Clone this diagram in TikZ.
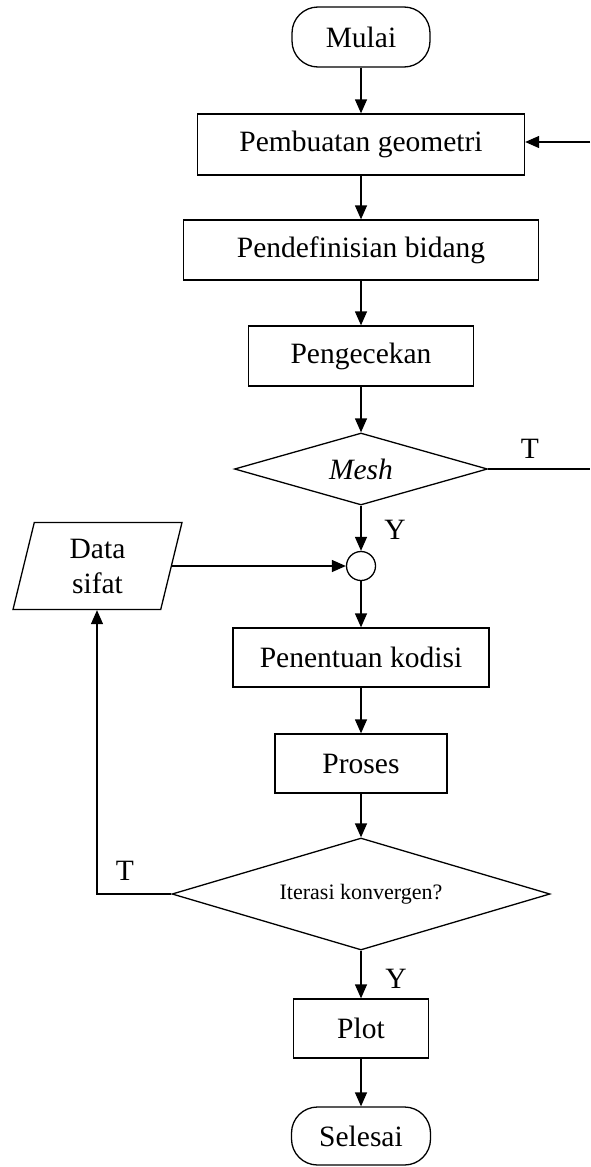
\documentclass[tikz,border=0pt]{standalone}
\usepackage{fontspec}
\setmainfont{Liberation Serif}
\usetikzlibrary{arrows.meta, shapes.geometric, positioning}
\tikzset{
  % thin black lines with filled triangle tips, as in the scanned chart
  every picture/.append style = {line width=1.3pt, >={Triangle[length=14pt, width=12pt]}},
  flowtxt/.style = {font=\fontsize{29.5}{35}\selectfont},
  procbox/.style = {draw, rectangle, flowtxt, inner sep=0pt, minimum height=60pt},
  termbox/.style = {procbox, rounded corners=26pt},
  decbox/.style  = {draw, diamond, flowtxt, inner sep=0pt, aspect=3.5},
  iobox/.style   = {draw, trapezium, trapezium left angle=68.7, trapezium right angle=111.3,
                    trapezium stretches body, flowtxt, align=center, inner sep=0pt,
                    minimum width=169pt, minimum height=87pt},
  joinpt/.style  = {draw, circle, minimum size=29pt, inner sep=0pt},
  yt/.style      = {flowtxt, inner sep=0pt},
}

\begin{document}
\begin{tikzpicture}[x=1pt, y=-1pt]
\useasboundingbox (0,0) rectangle (590,1167);

% ---- main column ---------------------------------------------------------
\node[termbox, minimum width=138pt] (mulai) at (361,37) {Mulai};
\node[procbox, minimum width=327pt, minimum height=61pt] (geom) at (361,144.5) {Pembuatan geometri};
\node[procbox, minimum width=355pt] (bidang) at (361,250) {Pendefinisian bidang};
\node[procbox, minimum width=225pt] (cek) at (361,356) {Pengecekan};
\node[decbox, minimum width=253pt, minimum height=72pt] (mesh) at (361,469) {\itshape Mesh};
\node[joinpt] (jn) at (361,566) {};
\node[procbox, minimum width=256pt, minimum height=59pt] (kondisi) at (361,657.5) {Penentuan kodisi};
\node[procbox, minimum width=172pt, minimum height=59pt] (proses) at (361,763.5) {Proses};
\node[decbox, minimum width=378pt, minimum height=112pt,
      font=\fontsize{22}{26}\selectfont] (iter) at (361,894) {Iterasi konvergen?};
\node[procbox, minimum width=135pt, minimum height=59pt] (plot) at (361,1028.5) {Plot};
\node[termbox, minimum width=139pt, minimum height=58pt] (selesai) at (361,1136) {Selesai};

% ---- input on the left ---------------------------------------------------
\node[iobox] (data) at (97.5,566) {Data\\sifat};

% ---- downward flow -------------------------------------------------------
\draw[->] (mulai) -- (geom);
\draw[->] (geom) -- (bidang);
\draw[->] (bidang) -- (cek);
\draw[->] (cek) -- (mesh);
\draw[->] (mesh) -- (jn);
\draw[->] (jn) -- (kondisi);
\draw[->] (kondisi) -- (proses);
\draw[->] (proses) -- (iter);
\draw[->] (iter) -- (plot);
\draw[->] (plot) -- (selesai);
\draw[->] (data.east) -- (data.east -| jn.west);

% ---- branches ------------------------------------------------------------
\coordinate (meshout) at (590,469);
\coordinate (geomin) at (590,142);
\coordinate (loopx) at (97,894);
\draw (mesh.east) -- (meshout);
\draw[->] (geomin) -- (geomin -| geom.east);
\draw[->] (iter.west) -- (loopx) -- (loopx |- data.south);

% ---- branch labels -------------------------------------------------------
\node[yt] (meshT) at (530,449) {T};
\node[yt] (meshY) at (395,530) {Y};
\node[yt] (iterT) at (125,871) {T};
\node[yt] (iterY) at (396,979) {Y};
\end{tikzpicture}
\end{document}
